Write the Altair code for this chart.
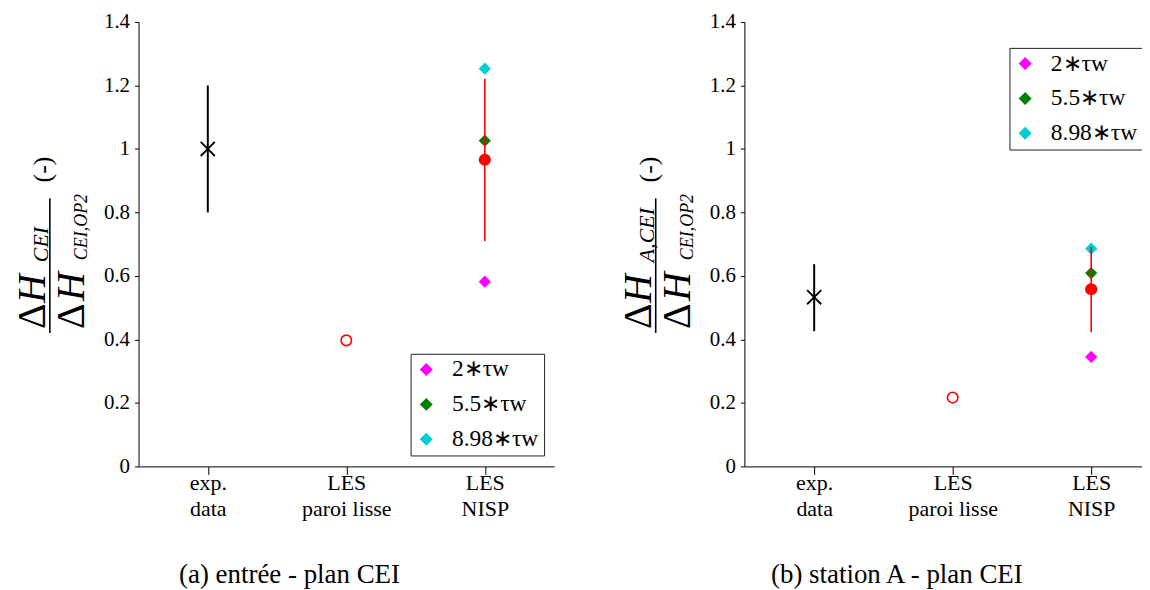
import altair as alt
import pandas as pd

SERIF = "Liberation Serif"

categories = ["exp.\ndata", "LES\nparoi lisse", "LES\nNISP"]
tau_labels = ["2∗τw", "5.5∗τw", "8.98∗τw"]
tau_colors = ["#ff00ff", "#008000", "#00ced1"]
y_ticks = [0.0, 0.1, 0.2, 0.3, 0.4, 0.5, 0.6, 0.7, 0.8, 0.9, 1.0, 1.1, 1.2, 1.3, 1.4]

# panel (a) entrée - plan CEI
a_mean = [1.0, 0.397, 0.966]
a_low = [0.80, None, 0.710]
a_high = [1.20, None, 1.221]
a_tau = [0.582, 1.026, 1.253]

# panel (b) station A - plan CEI
b_mean = [0.533, 0.217, 0.558]
b_low = [0.426, None, 0.423]
b_high = [0.637, None, 0.691]
b_tau = [0.345, 0.609, 0.686]

one = pd.DataFrame({"k": [0]})


def txt(t, x, y, size, italic=False, baseline="alphabetic", align="left"):
    return alt.Chart(one).mark_text(
        text=t, angle=270, font=SERIF, fontSize=size,
        fontStyle="italic" if italic else "normal",
        align=align, baseline=baseline, color="black",
    ).encode(x=alt.value(x), y=alt.value(y))


def panel(mean, low, high, tau, num_sub, caption, width, pad, align, lx, ly, dx):
    df = pd.DataFrame({"i": [0, 1, 2], "cat": categories, "mean": mean,
                       "low": low, "high": high})
    tdf = pd.DataFrame({"cat": [categories[2]] * 3, "value": tau, "label": tau_labels})

    xenc = alt.X(
        "cat:N", title=None,
        scale=alt.Scale(type="point", domain=categories, padding=pad, align=align),
        axis=alt.Axis(labelAngle=0, labelExpr="split(datum.label, '\\n')",
                      labelFont=SERIF, labelFontSize=22, labelLineHeight=26,
                      labelColor="black", tickSize=8, labelPadding=-2,
                      domainColor="black", tickColor="black", grid=False),
    )
    yscale = alt.Scale(domain=[0, 1.4], nice=False, zero=True)
    yaxis = alt.Axis(
        values=y_ticks, grid=False, domainColor="black", tickColor="black",
        labelFont=SERIF, labelFontSize=21, labelColor="black", labelPadding=5,
        tickSize={"condition": {"test": "round(datum.value*10) % 2 == 0", "value": 4}, "value": 2},
        labelExpr="round(datum.value*10) % 2 == 0 ? (datum.value == 0 ? '0' : datum.value == 1 ? '1' : format(datum.value, '.1f')) : ''",
    )

    diamonds = alt.Chart(tdf).mark_point(
        shape="diamond", filled=True, size=150, opacity=1, strokeWidth=0
    ).encode(
        x=xenc,
        y=alt.Y("value:Q", scale=yscale, axis=yaxis, title=None),
        color=alt.Color(
            "label:N", scale=alt.Scale(domain=tau_labels, range=tau_colors),
            legend=alt.Legend(title=None, orient="none", legendX=lx, legendY=ly,
                              direction="vertical", symbolType="diamond",
                              symbolSize=170, symbolStrokeWidth=0,
                              labelFont=SERIF, labelFontSize=23.5, labelColor="black",
                              labelOffset=14, rowPadding=10, padding=4,
                              strokeColor="#222222", fillColor="white", cornerRadius=0),
        ),
    )

    base = alt.Chart(df)
    rule_exp = base.transform_filter(alt.datum.i == 0).mark_rule(
        color="black", strokeWidth=2).encode(
        x=alt.X("cat:N", title=None), y=alt.Y("low:Q", title=None), y2="high:Q")
    rule_les = base.transform_filter(alt.datum.i == 2).mark_rule(
        color="#ff0000", strokeWidth=1.6).encode(
        x=alt.X("cat:N", title=None), y=alt.Y("low:Q", title=None), y2="high:Q")
    pt_exp = base.transform_filter(alt.datum.i == 0).mark_point(
        shape="M-1,-1L1,1M-1,1L1,-1", filled=False, size=200, strokeWidth=1.8,
        color="black", opacity=1).encode(
        x=alt.X("cat:N", title=None), y=alt.Y("mean:Q", title=None))
    pt_smooth = base.transform_filter(alt.datum.i == 1).mark_point(
        shape="circle", filled=False, size=110, strokeWidth=1.6,
        color="#ff0000", opacity=1).encode(
        x=alt.X("cat:N", title=None), y=alt.Y("mean:Q", title=None))
    pt_nisp = base.transform_filter(alt.datum.i == 2).mark_point(
        shape="circle", filled=True, size=150, color="#ff0000", opacity=1).encode(
        x=alt.X("cat:N", title=None), y=alt.Y("mean:Q", title=None))

    bar = alt.Chart(one).mark_rule(color="black", strokeWidth=1.6).encode(
        x=alt.value(-89), y=alt.value(177), y2=alt.value(312))
    title_parts = [
        txt("Δ", -94, 308, 40),
        txt("H", -94, 282, 40, italic=True),
        txt(num_sub, -91, 241, 22, italic=True),
        txt("Δ", -55, 308, 40),
        txt("H", -55, 280, 40, italic=True),
        txt("CEI,OP2", -52, 239, 18, italic=True),
        txt("(-)", -96, 148, 26, baseline="middle", align="center"),
    ]

    return alt.layer(diamonds, rule_exp, rule_les, pt_exp, pt_smooth, pt_nisp,
                     bar, *title_parts).properties(
        width=width, height=446,
        title=alt.TitleParams(caption, orient="bottom", anchor="middle", dx=dx,
                              offset=43, font=SERIF, fontSize=27,
                              fontWeight="normal", color="black"),
    )


left = panel(a_mean, a_low, a_high, a_tau, "CEI", "(a) entrée - plan CEI",
             417, 0.5, 0.5, 273, 333, -57)
right = panel(b_mean, b_low, b_high, b_tau, "A,CEI", "(b) station A - plan CEI",
              406, 0.4604, 0.547, 266, 26, -50)

chart = alt.hconcat(left, right, spacing=65).resolve_scale(
    color="independent").resolve_legend(color="independent").configure(
    font=SERIF).configure_view(stroke=None).properties(
    padding={"left": 5, "top": 2, "right": -7, "bottom": 0})

chart.save("out.html", embed_options={"renderer": "svg", "actions": False})
